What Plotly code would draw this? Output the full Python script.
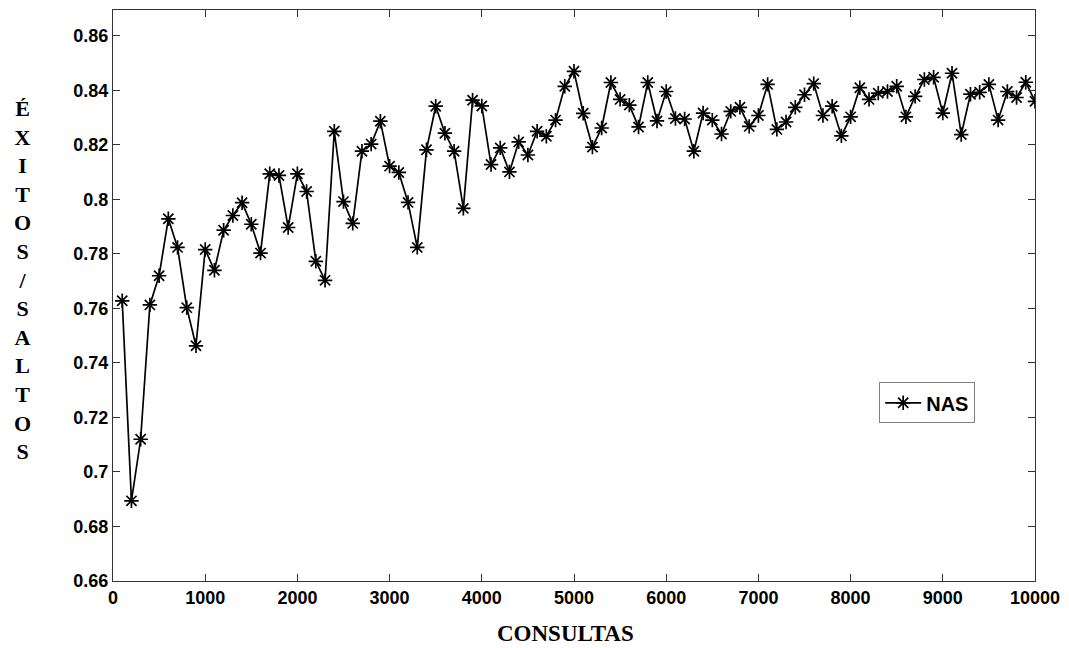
import plotly.graph_objects as go

consultas = list(range(100, 10001, 100))
nas = [
    0.7628, 0.6894, 0.7120, 0.7613, 0.7720, 0.7929, 0.7824, 0.7603, 0.7463, 0.7816,
    0.7740, 0.7887, 0.7941, 0.7988, 0.7909, 0.7803, 0.8094, 0.8088, 0.7897, 0.8094,
    0.8029, 0.7773, 0.7703, 0.8250, 0.7992, 0.7912, 0.8177, 0.8203, 0.8287, 0.8122,
    0.8099, 0.7989, 0.7824, 0.8182, 0.8342, 0.8243, 0.8177, 0.7967, 0.8364, 0.8343,
    0.8128, 0.8189, 0.8101, 0.8211, 0.8163, 0.8250, 0.8232, 0.8291, 0.8415, 0.8470,
    0.8316, 0.8192, 0.8262, 0.8429, 0.8367, 0.8346, 0.8266, 0.8429, 0.8288, 0.8396,
    0.8297, 0.8295, 0.8177, 0.8317, 0.8291, 0.8240, 0.8323, 0.8338, 0.8268, 0.8308,
    0.8422, 0.8257, 0.8284, 0.8338, 0.8384, 0.8425, 0.8308, 0.8342, 0.8233, 0.8303,
    0.8410, 0.8367, 0.8390, 0.8396, 0.8415, 0.8303, 0.8378, 0.8440, 0.8448, 0.8317,
    0.8463, 0.8238, 0.8386, 0.8393, 0.8422, 0.8291, 0.8396, 0.8374, 0.8430, 0.8360,
]

x_ticks = list(range(0, 10001, 1000))
x_ticklabels = ["<b>%d</b>" % v for v in x_ticks]
y_ticks = [0.66, 0.68, 0.70, 0.72, 0.74, 0.76, 0.78, 0.80, 0.82, 0.84, 0.86]
y_ticklabels = ["0.66", "0.68", "0.7", "0.72", "0.74", "0.76", "0.78", "0.8", "0.82", "0.84", "0.86"]
y_title_letters = ["É", "X", "I", "T", "O", "S", "/", "S", "A", "L", "T", "O", "S"]
x_title = "CONSULTAS"
series_name = "NAS"

tick_font = dict(family="Liberation Sans, Arial, sans-serif", size=18, color="black")

fig = go.Figure()
fig.add_trace(go.Scatter(
    x=consultas, y=nas, name="<b>" + series_name + "</b>", mode="lines+markers",
    line=dict(color="black", width=1.7),
    marker=dict(symbol="asterisk-open", size=12, color="black",
                line=dict(color="black", width=1.7)),
))

fig.update_layout(
    width=1069, height=648,
    margin=dict(l=113, r=31, t=9, b=67),
    paper_bgcolor="white", plot_bgcolor="white",
    showlegend=True,
    legend=dict(x=0.831, y=0.348, xanchor="left", yanchor="top",
                bgcolor="white", bordercolor="#808080", borderwidth=1,
                font=dict(family="Liberation Sans, Arial, sans-serif", size=20, color="black"),
                itemwidth=36),
    xaxis=dict(range=[0, 10000], tickvals=x_ticks, ticktext=x_ticklabels,
               ticks="inside", ticklen=7, tickcolor="#333", mirror="allticks",
               showline=True, linecolor="#333", linewidth=1, showgrid=False,
               zeroline=False, tickfont=tick_font),
    yaxis=dict(range=[0.66, 0.8695], tickvals=y_ticks,
               ticktext=["<b>" + t + "</b>" for t in y_ticklabels],
               ticks="inside", ticklen=7, tickcolor="#333", mirror="allticks",
               showline=True, linecolor="#333", linewidth=1, showgrid=False,
               zeroline=False, tickfont=tick_font),
    annotations=[
        dict(text="<b>" + x_title + "</b>", xref="paper", yref="paper",
             x=0.491, y=-0.092, xanchor="center", yanchor="middle", showarrow=False,
             font=dict(family="Liberation Serif, Times New Roman, serif", size=23, color="black")),
        dict(text="<b>" + "<br>".join(y_title_letters) + "</b>", xref="paper", yref="paper",
             x=-0.098, y=0.528, xanchor="center", yanchor="middle", showarrow=False,
             font=dict(family="Liberation Serif, Times New Roman, serif", size=22, color="black")),
    ],
)

fig.write_html("out.html")
